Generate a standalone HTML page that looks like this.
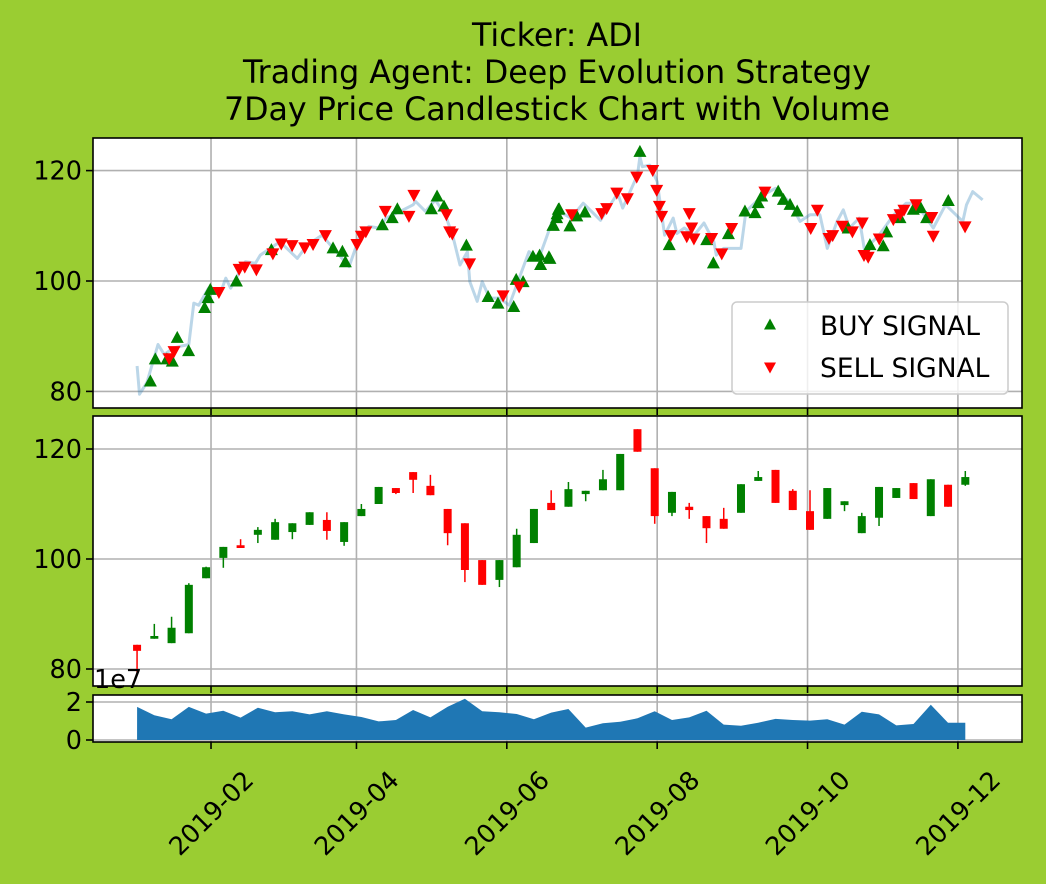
<!DOCTYPE html>
<html><head><meta charset="utf-8"><style>
html,body{margin:0;padding:0;background:#9acd32;}
svg{display:block;font-family:"DejaVu Sans","Liberation Sans",sans-serif;}
</style></head><body>
<svg id="c" width="1046" height="884" xmlns="http://www.w3.org/2000/svg">
<rect width="1046" height="884" fill="#9acd32"/>
<g font-size="31.7" text-anchor="middle" fill="#000">
<text x="557" y="46">Ticker: ADI</text>
<text x="557" y="83">Trading Agent: Deep Evolution Strategy</text>
<text x="557" y="120">7Day Price Candlestick Chart with Volume</text>
</g>
<g id="g"></g>
</svg>
<script>
// ---- data ----
const lineDays=[1,2,5,9.5,12,16,19,22,24,26,30,35,37,39,43,45,49,51,55,59,66,70,76,83,87,91,95,99,102,109,113,114,118,122,126,129,132,135,136,139,141,144,148,152,155,160,164,168,171,177,182,189,196,198,204,205,206,209,212,215,218.5,220,223,227,231,235,236,239,246,248,255,260,266,270,274,278,281,285,287.5,290,294,296,298,302,308,313,317,324,329,336,337.5,340,344];
const linePrices=[84.6,79.5,81.6,88.5,86.7,87.9,88.2,88.5,96,95.6,98.7,98.1,100.5,98.7,102,103.5,103.2,104.7,105.9,107.1,104.1,106.5,108.3,104.7,102.6,107.7,109.9,109.6,111.4,112.9,113.8,114.4,112.6,114.7,112,108.3,102.9,105.3,99.9,96.3,99.9,96.9,96.9,95.6,99.3,105.3,104.1,109,112.9,111.4,114.1,111,115.9,113.2,119.2,122.5,120.7,121,118,108.3,111.4,108.6,109.6,108.3,110.5,107.1,104.7,105.9,105.9,112.6,115.6,116.8,114.1,110.8,112,112,105.9,110.8,112.9,109.6,111.4,105.9,106.5,108.3,112,114.1,114.1,109.6,113.8,110.8,113.8,116.2,114.7];
const buyDays=[6.4,8.4,13.1,15.3,17.3,21.9,28.4,29.8,30.7,41.3,55.5,80.5,84.3,85.5,100.5,104.5,106.6,120.4,122.7,125.5,134.6,143.4,147.4,153.8,154.8,157.6,161.6,164.3,164.7,168.1,169.7,171.4,172.2,168.5,169.9,171.2,171.9,176.6,179.4,182.7,205,216.9,232.1,234.8,240.9,247.6,251.7,253,254.4,261.1,263.2,265.9,268.8,289.5,298.3,303.7,305.1,310.5,315.9,318.9,321.3,330.1];
const buyPrices=[81.8,85.8,85.8,85.4,89.7,87.3,95.1,96.9,98.4,99.9,105.6,105.9,105.3,103.4,110.1,111.4,113,113,115.3,113.5,106.4,97.1,95.9,95.3,100.2,99.8,104.4,104.6,102.9,104.3,110,112.1,113,104,110,111.4,112.9,109.9,111.7,112.4,123.4,106.5,107.4,103.2,108.5,112.6,112.3,114.1,115.3,116.2,114.7,113.8,112.6,109.5,106.5,106.3,108.8,111.4,112.9,113.2,111.4,114.5];
const sellDays=[14,16,34.2,42.4,44.7,49.4,56.1,59.5,63.9,69,72.4,77.4,90.2,92,93.8,101.7,111.3,113.3,126.5,127.8,128.9,135.9,149.5,156,177.3,189.5,191.5,195.6,199.9,203.7,210.2,211.8,212.9,213.8,217.5,224,225,226,226.9,234.1,238.2,242.2,255.7,274.3,277,281.7,283.2,287.1,291.2,295.2,295.9,297.6,302.1,307.8,310.5,312.1,317,323.4,324,336.9];
const sellPrices=[86,87.3,98,102.2,102.6,102.1,105,106.8,106.5,106.1,106.7,108.3,106.7,108.2,109,112.7,111.8,115.6,112.1,109,108.6,103.2,97.4,99,112.1,112.3,113.2,116,115,118.9,120.1,116.5,113.6,111.8,108.3,108.1,112.3,109.7,107.7,107.8,105,109.6,116.2,109.6,112.9,107.8,108.3,110,109,110.6,104.7,104.4,107.7,111.2,112.1,112.9,113.9,111.6,108.2,109.9];
const candleOpen=[84.4,85.5,84.7,86.5,96.5,100.2,102.5,104.4,103.5,104.9,106.2,107.1,103.1,107.8,110,112.9,115.8,113.3,109.1,106.5,99.8,96.2,98.5,102.9,110.2,109.5,111.8,112.5,112.5,123.6,116.5,108.4,109.5,107.8,107.3,108.4,114.2,116.2,112.4,108.7,107.3,109.8,104.7,107.5,111.1,113.8,107.8,113.5,113.5];
const candleHigh=[84.4,88.2,89.5,95.6,98.6,102.2,103.6,105.8,107.3,106.5,108.5,108.5,106.7,110,113.1,112.9,115.8,115.3,109.1,106.5,99.8,99.8,105.5,109.1,112.5,114,112.4,116.2,119.1,123.6,116.5,112.2,110.2,107.8,109.3,113.6,116,116.2,112.7,112.5,112.9,110.5,108.4,113.1,112.9,113.8,114.5,113.5,116];
const candleLow=[79.3,85.5,84.7,86.5,96.5,98.4,102,102.9,103.5,103.6,106.2,103.5,102.4,107.8,110,111.8,112,111.6,102.5,95.8,95.3,94.9,98.5,102.9,108.9,109.5,110.5,112.5,112.5,119.5,106.4,107.8,107.3,102.9,105.5,108.4,114.2,110.2,108.9,105.3,107.3,108.7,104.7,106,111.1,110.9,107.8,109.5,113.3];
const candleClose=[83.3,86.0,87.5,95.3,98.5,102.2,102.0,105.3,106.7,106.5,108.5,105.1,106.7,109.1,113.1,112.0,114.4,111.6,104.7,98.0,95.3,99.8,104.4,109.1,108.9,112.7,112.4,114.5,119.1,119.5,107.8,112.2,108.9,105.6,105.5,113.6,114.9,110.2,108.9,105.3,112.9,110.5,107.8,113.1,112.9,110.9,114.5,109.5,114.9];
const volumes=[1.74,1.30,1.09,1.74,1.39,1.54,1.18,1.70,1.46,1.51,1.35,1.51,1.35,1.21,0.98,1.05,1.58,1.19,1.75,2.17,1.51,1.46,1.37,1.09,1.44,1.63,0.65,0.88,0.96,1.14,1.51,1.05,1.19,1.54,0.81,0.75,0.91,1.11,1.05,1.02,1.09,0.81,1.49,1.35,0.77,0.84,1.86,0.91,0.91];
const xTickDays=[31,90,151,212,273,334];
const xTickLabels=["2019-02","2019-04","2019-06","2019-08","2019-10","2019-12"];
const priceTicks=[80,100,120];
const volTicks=[0,2];

// ---- scales ----
const L=93,R=1022;
const xs=d=>134.6+d*2.465;
const y1=p=>281-(p-100)*5.52;
const y2=p=>559-(p-100)*5.5;
const y3=v=>740-v*19;
const NS="http://www.w3.org/2000/svg";
const g=document.getElementById('g');
function mk(tag,attrs,parent){const e=document.createElementNS(NS,tag);for(const k in attrs)e.setAttribute(k,attrs[k]);(parent||g).appendChild(e);return e;}
const panels=[[138,408],[416,686],[695,742]];
const TF=25.5;

panels.forEach((pn,i)=>{
  const r=mk('rect',{x:L,y:pn[0],width:R-L,height:pn[1]-pn[0],fill:'#fff'});
  
  
  xTickDays.forEach((d,j)=>{
    const l=mk('line',{x1:xs(d),x2:xs(d),y1:pn[0],y2:pn[1],stroke:'#b0b0b0','stroke-width':1.6});
    
    
    const t=mk('line',{x1:xs(d),x2:xs(d),y1:pn[1],y2:pn[1]+7,stroke:'#000','stroke-width':1.6});
    
    
  });
});
// y grid/ticks
[[y1,0],[y2,1]].forEach(([f,i])=>{
  priceTicks.forEach(p=>{
    const l=mk('line',{x1:L,x2:R,y1:f(p),y2:f(p),stroke:'#b0b0b0','stroke-width':1.6});
    
    
    const t=mk('line',{x1:L-7,x2:L,y1:f(p),y2:f(p),stroke:'#000','stroke-width':1.6});
    
    
    const tx=mk('text',{x:L-11,y:f(p)+9,'font-size':TF,'text-anchor':'end'});
    tx.textContent=p;
    
    
  });
});
volTicks.forEach(v=>{
  const l=mk('line',{x1:L,x2:R,y1:y3(v),y2:y3(v),stroke:'#b0b0b0','stroke-width':1.6});
  
  
  const t=mk('line',{x1:L-7,x2:L,y1:y3(v),y2:y3(v),stroke:'#000','stroke-width':1.6});
  
  
  const tx=mk('text',{x:L-11,y:y3(v)+9,'font-size':TF,'text-anchor':'end'});
  tx.textContent=v;
  
  
});
// x tick labels
xTickDays.forEach((d,j)=>{
  const x=xs(d),y=813;
  const tx=mk('text',{x:x,y:y+9,'font-size':TF,'text-anchor':'middle',transform:`rotate(-45 ${x} ${y})`});
  tx.textContent=xTickLabels[j];
  
  
});
// price line
let dstr=lineDays.map((d,i)=>(i?'L':'M')+xs(d).toFixed(1)+' '+y1(linePrices[i]).toFixed(1)).join(' ');
const pl=mk('path',{d:dstr,fill:'none',stroke:'#1f77b4','stroke-opacity':0.3,'stroke-width':3,'stroke-linejoin':'round'});


// signals
buyDays.forEach((d,i)=>{
  const x=xs(d),y=y1(buyPrices[i]);
  const m=mk('polygon',{points:`${x},${y-7} ${x-6.5},${y+5} ${x+6.5},${y+5}`,fill:'#008000'});
  
  
});
sellDays.forEach((d,i)=>{
  const x=xs(d),y=y1(sellPrices[i]);
  const m=mk('polygon',{points:`${x},${y+7} ${x-6.5},${y-5} ${x+6.5},${y-5}`,fill:'#ff0000'});
  
  
});
// candles
candleOpen.forEach((o,i)=>{
  const c=candleClose[i],x=xs(1+7*i);
  const col=c>=o?'#008000':'#ff0000';
  const w=mk('line',{x1:x,x2:x,y1:y2(candleHigh[i]),y2:y2(candleLow[i]),stroke:col,'stroke-width':1.5});
  
  
  const top=y2(Math.max(o,c)),bot=y2(Math.min(o,c));
  const b=mk('rect',{x:x-4,y:top,width:8,height:Math.max(bot-top,1.5),fill:col});
  
  
});
// volume area
let vd='M'+xs(1)+' '+y3(0)+' '+volumes.map((v,i)=>'L'+xs(1+7*i).toFixed(1)+' '+y3(v).toFixed(1)).join(' ')+' L'+xs(1+7*(volumes.length-1))+' '+y3(0)+' Z';
const va=mk('path',{d:vd,fill:'#1f77b4'});


// panel borders
panels.forEach((pn,i)=>{
  const r=mk('rect',{x:L,y:pn[0],width:R-L,height:pn[1]-pn[0],fill:'none',stroke:'#000','stroke-width':1.6});
  
  
});
const e7=mk('text',{x:94,y:688,'font-size':TF});
e7.textContent='1e7';


// legend
const lg=mk('g',{});


const lb=mk('rect',{x:732,y:302,width:276,height:92,rx:5,fill:'#fff','fill-opacity':0.8,stroke:'#ccc','stroke-width':1.5},lg);


const lt1=mk('polygon',{points:'770,318.5 764,329.5 776,329.5',fill:'#008000'},lg);


const tx1=mk('text',{x:820,y:335,'font-size':26.5},lg);tx1.textContent='BUY SIGNAL';


const lt2=mk('polygon',{points:'770,373.5 764,362.5 776,362.5',fill:'#ff0000'},lg);


const tx2=mk('text',{x:820,y:377,'font-size':26.5},lg);tx2.textContent='SELL SIGNAL';


</script>
</body></html>
